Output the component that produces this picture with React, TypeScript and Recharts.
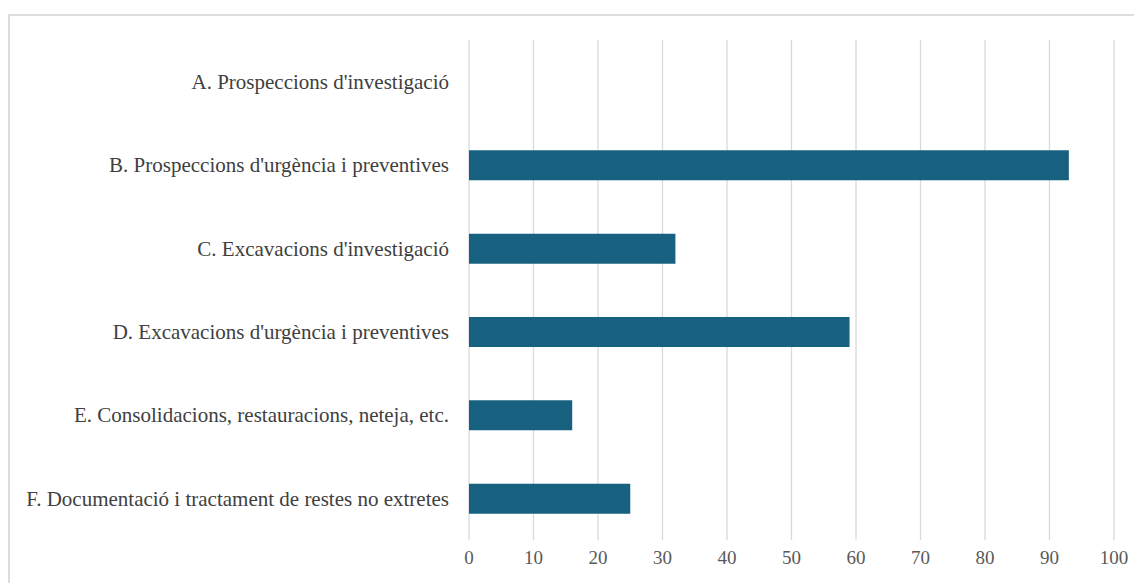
import React from "react";
import { BarChart, Bar, XAxis, YAxis, CartesianGrid } from "recharts";

const categories = [
  "A. Prospeccions d'investigació",
  "B. Prospeccions d'urgència i preventives",
  "C. Excavacions d'investigació",
  "D. Excavacions d'urgència i preventives",
  "E. Consolidacions, restauracions, neteja, etc.",
  "F. Documentació i tractament de restes no extretes",
];
const values = [0, 93, 32, 59, 16, 25];
const xTicks = [0, 10, 20, 30, 40, 50, 60, 70, 80, 90, 100];

const data = categories.map((name, i) => ({ name, value: values[i] }));

const FONT = "Liberation Serif";

export default function App() {
  return (
    <div style={{ paddingTop: 6 }}>
      <div
        style={{
          borderTop: "2px solid #dcdcdc",
          borderLeft: "2px solid #dcdcdc",
          width: 1132,
          height: 569,
          boxSizing: "border-box",
          background: "#fff",
        }}
      >
        <BarChart
          width={1130}
          height={567}
          data={data}
          layout="vertical"
          margin={{ top: 24, right: 26, left: 0, bottom: 13 }}
        >
          <CartesianGrid horizontal={false} stroke="#d9d9d9" strokeWidth={1.3} />
          <XAxis
            type="number"
            domain={[0, 100]}
            ticks={xTicks}
            axisLine={false}
            tickLine={false}
            tickMargin={5}
            height={30}
            interval={0}
            tick={{ fill: "#595959", fontSize: 19, fontFamily: FONT }}
          />
          <YAxis
            type="category"
            dataKey="name"
            width={459}
            axisLine={false}
            tickLine={false}
            tickMargin={14}
            interval={0}
            tick={{ fill: "#404040", fontSize: 21, fontFamily: FONT }}
          />
          <Bar dataKey="value" fill="#17607f" barSize={30} isAnimationActive={false} />
        </BarChart>
      </div>
    </div>
  );
}
